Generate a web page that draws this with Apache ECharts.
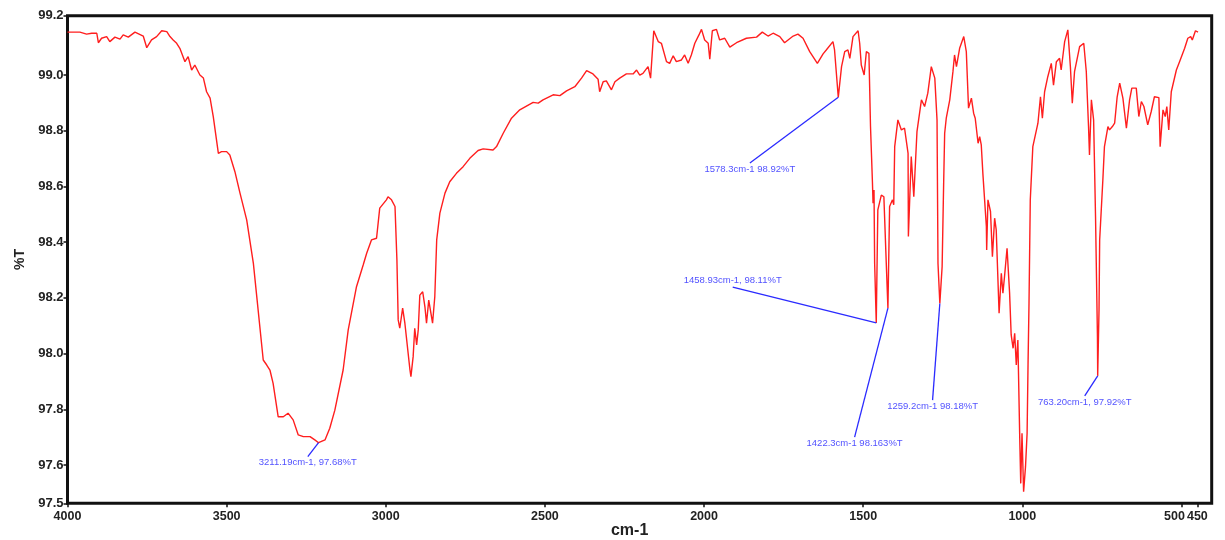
<!DOCTYPE html>
<html>
<head>
<meta charset="utf-8">
<script src="https://cdn.jsdelivr.net/npm/echarts@6/dist/echarts.min.js"></script>
<style>
html,body{margin:0;padding:0;background:#fff;}
#chart{width:1225px;height:540px;}
</style>
</head>
<body>
<div id="chart"></div>
<script>
// Wavenumber (cm-1) and transmittance (%T)
const wavenumber = [4000,3961,3940,3924,3908,3903,3893,3877,3867,3851,3835,3825,3809,3788,3762,3751,3736,3720,3704,3688,3678,3668,3657,3647,3631,3621,3610,3600,3584,3573,3563,3552,3542,3526,3516,3500,3490,3474,3458,3437,3416,3385,3374,3364,3354,3338,3322,3307,3291,3275,3259,3238,3223,3211.19,3191,3176,3160,3134,3118,3092,3071,3060,3045,3029,3019,2998,2993,2982,2971,2965,2961,2956,2947,2940,2924,2921,2914,2909,2903,2898,2893,2884,2877,2872,2865,2859,2853,2846,2840,2830,2814,2799,2778,2757,2736,2710,2694,2663,2652,2631,2605,2579,2537,2521,2506,2474,2453,2432,2406,2385,2369,2349,2333,2328,2317,2307,2291,2280,2265,2244,2223,2212,2202,2192,2176,2168,2162,2158,2144,2134,2118,2108,2097,2087,2071,2061,2050,2040,2029,2016,2008,1998,1987,1982,1974,1961,1951,1935,1919,1898,1867,1835,1817,1799,1783,1762,1747,1736,1720,1705,1689,1668,1644,1626,1616,1595,1590,1578.3,1568,1558,1548,1542,1532,1516,1511,1506,1497,1490,1482,1477,1471,1469,1466,1464,1458.93,1454,1443,1435,1429,1422.3,1417,1408,1404,1401,1391,1380,1370,1359,1358,1349,1341,1331,1317,1307,1297,1286,1275,1268,1265,1259.2,1252,1247,1244,1239,1228,1218,1213,1207,1197,1184,1176,1169,1160,1153,1148,1139,1134,1129,1124,1113,1112,1108,1100,1094,1087,1082,1073,1066,1061,1056,1048,1040,1035,1029,1024,1019,1014,1008,1005,1001,996,990,985,982,979,975,967,951,943,937,930,920,909,902,893,883,878,867,857,849,843,836,820,807,799,792,789,783,776,770,764,763.2,759,757,747,742,731,726,717,710,702,694,684,679,673,663,656,642,634,626,618,606,595,585,571,567,558,551,546,540,532,527,516,506,490,480,471,466,456,448];
const transmittance = [99.154,99.154,99.147,99.150,99.150,99.116,99.132,99.138,99.120,99.136,99.129,99.144,99.136,99.154,99.140,99.098,99.126,99.138,99.159,99.156,99.138,99.126,99.114,99.096,99.048,99.066,99.018,99.036,99.000,98.989,98.940,98.917,98.851,98.719,98.725,98.725,98.713,98.653,98.576,98.480,98.324,97.977,97.959,97.941,97.893,97.773,97.773,97.786,97.762,97.708,97.702,97.702,97.690,97.68,97.690,97.732,97.797,97.941,98.085,98.240,98.318,98.360,98.408,98.414,98.522,98.552,98.563,98.552,98.528,98.336,98.121,98.091,98.163,98.109,97.941,97.917,97.989,98.091,98.031,98.085,98.210,98.222,98.168,98.109,98.192,98.186,98.109,98.204,98.408,98.504,98.576,98.617,98.647,98.671,98.701,98.729,98.735,98.731,98.743,98.791,98.845,98.875,98.902,98.899,98.911,98.929,98.926,98.943,98.958,98.989,99.016,99.004,98.985,98.940,98.976,98.979,98.947,98.976,98.989,99.004,99.004,99.018,99.000,99.006,99.030,98.989,98.982,99.159,99.120,99.114,99.048,99.042,99.069,99.048,99.054,99.072,99.042,99.072,99.114,99.144,99.164,99.126,99.114,99.057,99.159,99.164,99.126,99.132,99.100,99.116,99.132,99.136,99.154,99.140,99.150,99.138,99.116,99.126,99.140,99.147,99.132,99.084,99.042,99.076,99.090,99.120,99.090,98.92,99.030,99.084,99.090,99.060,99.138,99.159,99.114,99.036,99.000,99.084,99.078,98.815,98.617,98.540,98.587,98.324,98.11,98.516,98.569,98.563,98.372,98.163,98.528,98.552,98.534,98.743,98.839,98.803,98.809,98.719,98.420,98.707,98.563,98.797,98.911,98.887,98.935,99.030,98.989,98.839,98.324,98.18,98.312,98.623,98.791,98.845,98.911,99.012,99.072,99.030,99.096,99.138,99.084,98.881,98.917,98.863,98.845,98.755,98.779,98.749,98.647,98.456,98.372,98.552,98.510,98.348,98.486,98.444,98.145,98.288,98.217,98.276,98.378,98.217,98.067,98.019,98.073,97.959,98.049,97.690,97.534,97.714,97.504,97.594,97.714,97.965,98.181,98.552,98.743,98.827,98.922,98.845,98.940,98.994,99.042,98.964,99.048,99.060,99.018,99.120,99.162,99.030,98.899,99.012,99.102,99.114,99.012,98.815,98.713,98.911,98.839,98.492,98.061,97.92,98.157,98.408,98.623,98.743,98.815,98.803,98.815,98.827,98.922,98.971,98.917,98.922,98.809,98.911,98.953,98.953,98.851,98.905,98.887,98.821,98.869,98.922,98.919,98.743,98.875,98.851,98.887,98.803,98.940,98.947,99.018,99.048,99.096,99.132,99.138,99.126,99.159,99.154];

// Peak annotations
const peakWave = [3211.19, 1578.3, 1458.93, 1422.3, 1259.2, 763.20];
const peakT = [97.68, 98.92, 98.11, 98.163, 98.18, 97.92];
const peakText = ['3211.19cm-1, 97.68%T', '1578.3cm-1 98.92%T', '1458.93cm-1, 98.11%T', '1422.3cm-1 98.163%T', '1259.2cm-1 98.18%T', '763.20cm-1, 97.92%T'];
// leader-line end points (in data units)
const leaderWave = [3245, 1856, 1910, 1527, 1282, 804];
const leaderT = [97.63, 98.684, 98.239, 97.70, 97.833, 97.848];
const labelAbove = [false, false, true, false, false, false];

// Axis labels
const xTicks = [4000, 3500, 3000, 2500, 2000, 1500, 1000, 500, 450];
const yMin = 97.4625, yMax = 99.213;
const yTicks = [yMin, 97.6, 97.8, 98.0, 98.2, 98.4, 98.6, 98.8, 99.0, yMax];

const spectrum = wavenumber.map((w, i) => [w, transmittance[i]]);

const series = [{
  type: 'line',
  data: spectrum,
  showSymbol: false,
  symbol: 'none',
  lineStyle: { color: '#ff1e1e', width: 1.4 },
  z: 3,
  animation: false
}];

peakWave.forEach((w, i) => {
  series.push({
    type: 'line',
    data: [[w, peakT[i]], [leaderWave[i], leaderT[i]]],
    symbol: 'none',
    lineStyle: { color: '#2a2aff', width: 1.3 },
    z: 4,
    animation: false
  });
  series.push({
    type: 'scatter',
    data: [[leaderWave[i], leaderT[i]]],
    symbolSize: 0,
    label: {
      show: true,
      position: labelAbove[i] ? 'top' : 'bottom',
      distance: labelAbove[i] ? 2 : 1,
      formatter: peakText[i],
      color: '#1f1fff',
      fontSize: 9.5,
      fontFamily: 'Liberation Sans, Arial, sans-serif'
    },
    z: 5,
    silent: true,
    animation: false
  });
});

const labelFont = 'Liberation Sans, Arial, sans-serif';
const chart = echarts.init(document.getElementById('chart'), null, { renderer: 'canvas' });
chart.setOption({
  backgroundColor: '#ffffff',
  animation: false,
  grid: {
    left: 67.5, right: 13.3, top: 15.7, bottom: 36.7,
    outerBoundsMode: 'none',
    containLabel: false,
    show: true, borderColor: '#111', borderWidth: 3, backgroundColor: 'transparent'
  },
  xAxis: {
    type: 'value',
    inverse: true,
    min: 405, max: 4000,
    name: 'cm-1',
    nameLocation: 'middle',
    nameGap: 19,
    nameMoveOverlap: false,
    nameTextStyle: { fontSize: 16, fontWeight: 'bold', color: '#222', fontFamily: labelFont, padding: [0, 20, 0, 0] },
    axisLine: { show: false },
    splitLine: { show: false },
    axisTick: { show: true, inside: false, length: 4, lineStyle: { color: '#111', width: 1.5 }, customValues: xTicks },
    axisLabel: {
      customValues: xTicks,
      hideOverlap: false,
      showMinLabel: true,
      showMaxLabel: true,
      margin: 7,
      fontSize: 12.5, fontWeight: 'bold', color: '#222',
      fontFamily: labelFont,
      formatter: v => (Math.round(v) === 500 ? '{s|500}' : String(Math.round(v))),
      rich: { s: { fontSize: 12.5, fontWeight: 'bold', color: '#222', fontFamily: labelFont, padding: [0, 14, 0, 0] } }
    }
  },
  yAxis: {
    type: 'value',
    min: yMin, max: yMax,
    name: '%T',
    nameLocation: 'middle',
    nameGap: 40,
    nameMoveOverlap: false,
    nameRotate: 90,
    nameTextStyle: { fontSize: 14, fontWeight: 'bold', color: '#222', fontFamily: labelFont },
    axisLine: { show: false },
    splitLine: { show: false },
    axisTick: { show: true, inside: false, length: 4, lineStyle: { color: '#111', width: 1.5 }, customValues: yTicks },
    axisLabel: {
      customValues: yTicks,
      hideOverlap: false,
      showMinLabel: true,
      showMaxLabel: true,
      margin: 4,
      fontSize: 13, fontWeight: 'bold', color: '#222',
      fontFamily: labelFont,
      formatter: v => v.toFixed(1)
    }
  },
  series: series
});
</script>
</body>
</html>
